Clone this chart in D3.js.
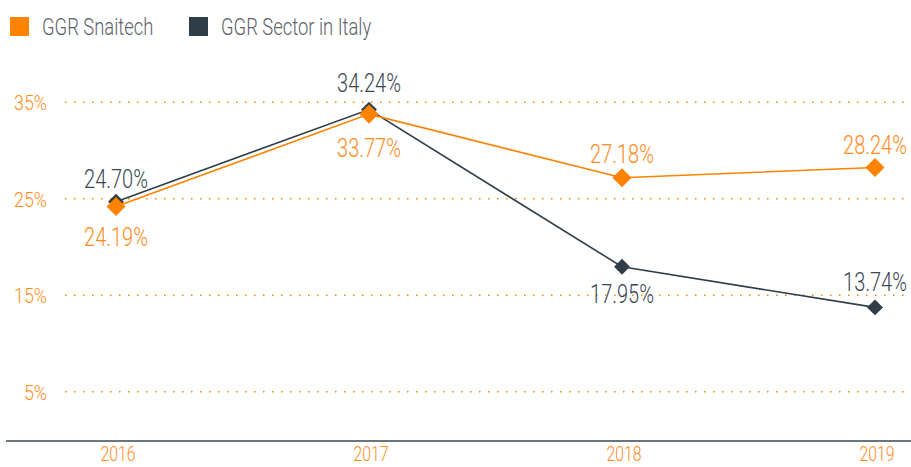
<!DOCTYPE html>
<html>
<head>
<meta charset="utf-8">
<script src="https://cdn.jsdelivr.net/npm/d3@7"></script>
<style>
  body { margin: 0; background: #fff; }
  svg { display: block; font-family: "Roboto", sans-serif; font-weight: 300; }
</style>
</head>
<body>
<script>
const years = ["2016", "2017", "2018", "2019"];
const snaitech = [24.19, 33.77, 27.18, 28.24];
const sector = [24.70, 34.24, 17.95, 13.74];
const yTicks = [5, 15, 25, 35];

const orange = "#ff8200";
const dark = "#2f3d48";
const orangeText = "#ff8c1a";

const width = 911, height = 467;

const svg = d3.select("body").append("svg")
  .attr("width", width)
  .attr("height", height);

const x = d3.scalePoint().domain(years).range([116, 875]);
const y = d3.scaleLinear().domain([0, 35]).range([440, 102.25]);

// condensed look: squeeze text horizontally
const squeeze = (tx, ty, k) => "translate(" + tx + "," + ty + ") scale(" + k + ",1)";

// gridlines + y labels
svg.append("g")
  .selectAll("line")
  .data(yTicks)
  .enter().append("line")
  .attr("x1", 65).attr("x2", width)
  .attr("y1", d => y(d)).attr("y2", d => y(d))
  .attr("stroke", orange)
  .attr("stroke-width", 1.5)
  .attr("stroke-dasharray", "1.5,7.5");

svg.append("g")
  .selectAll("text")
  .data(yTicks)
  .enter().append("text")
  .attr("transform", d => squeeze(47, y(d) + 8, 0.85))
  .attr("text-anchor", "end")
  .attr("fill", orangeText)
  .attr("font-size", 21)
  .text(d => d + "%");

// x axis
svg.append("line")
  .attr("x1", 6).attr("x2", width)
  .attr("y1", y(0) + 1).attr("y2", y(0) + 1)
  .attr("stroke", "#3d4750")
  .attr("stroke-width", 1.5);

svg.append("g")
  .selectAll("text")
  .data(years)
  .enter().append("text")
  .attr("transform", d => squeeze(x(d) + 2, 461, 0.75))
  .attr("text-anchor", "middle")
  .attr("fill", orangeText)
  .attr("font-size", 21)
  .text(d => d);

// legend
const legend = [
  {name: "GGR Snaitech", color: orange, x: 10},
  {name: "GGR Sector in Italy", color: dark, x: 189}
];
const lg = svg.append("g").selectAll("g").data(legend).enter().append("g");
lg.append("rect")
  .attr("x", d => d.x).attr("y", 17)
  .attr("width", 19).attr("height", 19)
  .attr("fill", d => d.color);
lg.append("text")
  .attr("transform", d => squeeze(d.x + 32, 35, 0.8))
  .attr("fill", "#5b636b")
  .attr("font-size", 23)
  .text(d => d.name);

const line = d3.line()
  .x((d, i) => x(years[i]))
  .y(d => y(d));

const series = [
  {values: sector, color: dark, text: "#3a4651", size: 15, offsets: [-14, -18, 36, -16]},
  {values: snaitech, color: orange, text: orangeText, size: 18, offsets: [39, 43, -15, -13]}
];

series.forEach(s => {
  svg.append("path")
    .datum(s.values)
    .attr("d", line)
    .attr("fill", "none")
    .attr("stroke", s.color)
    .attr("stroke-width", 1.6);
});

series.forEach(s => {
  svg.append("g")
    .selectAll("rect")
    .data(s.values)
    .enter().append("rect")
    .attr("x", -s.size / 2).attr("y", -s.size / 2)
    .attr("width", s.size).attr("height", s.size)
    .attr("fill", s.color)
    .attr("transform", (d, i) => "translate(" + x(years[i]) + "," + y(d) + ") rotate(45) scale(0.75)");
});

series.forEach(s => {
  svg.append("g")
    .selectAll("text")
    .data(s.values)
    .enter().append("text")
    .attr("transform", (d, i) => squeeze(x(years[i]), y(d) + s.offsets[i], 0.8))
    .attr("text-anchor", "middle")
    .attr("fill", s.text)
    .attr("font-size", 25)
    .text(d => d.toFixed(2) + "%");
});
</script>
</body>
</html>
